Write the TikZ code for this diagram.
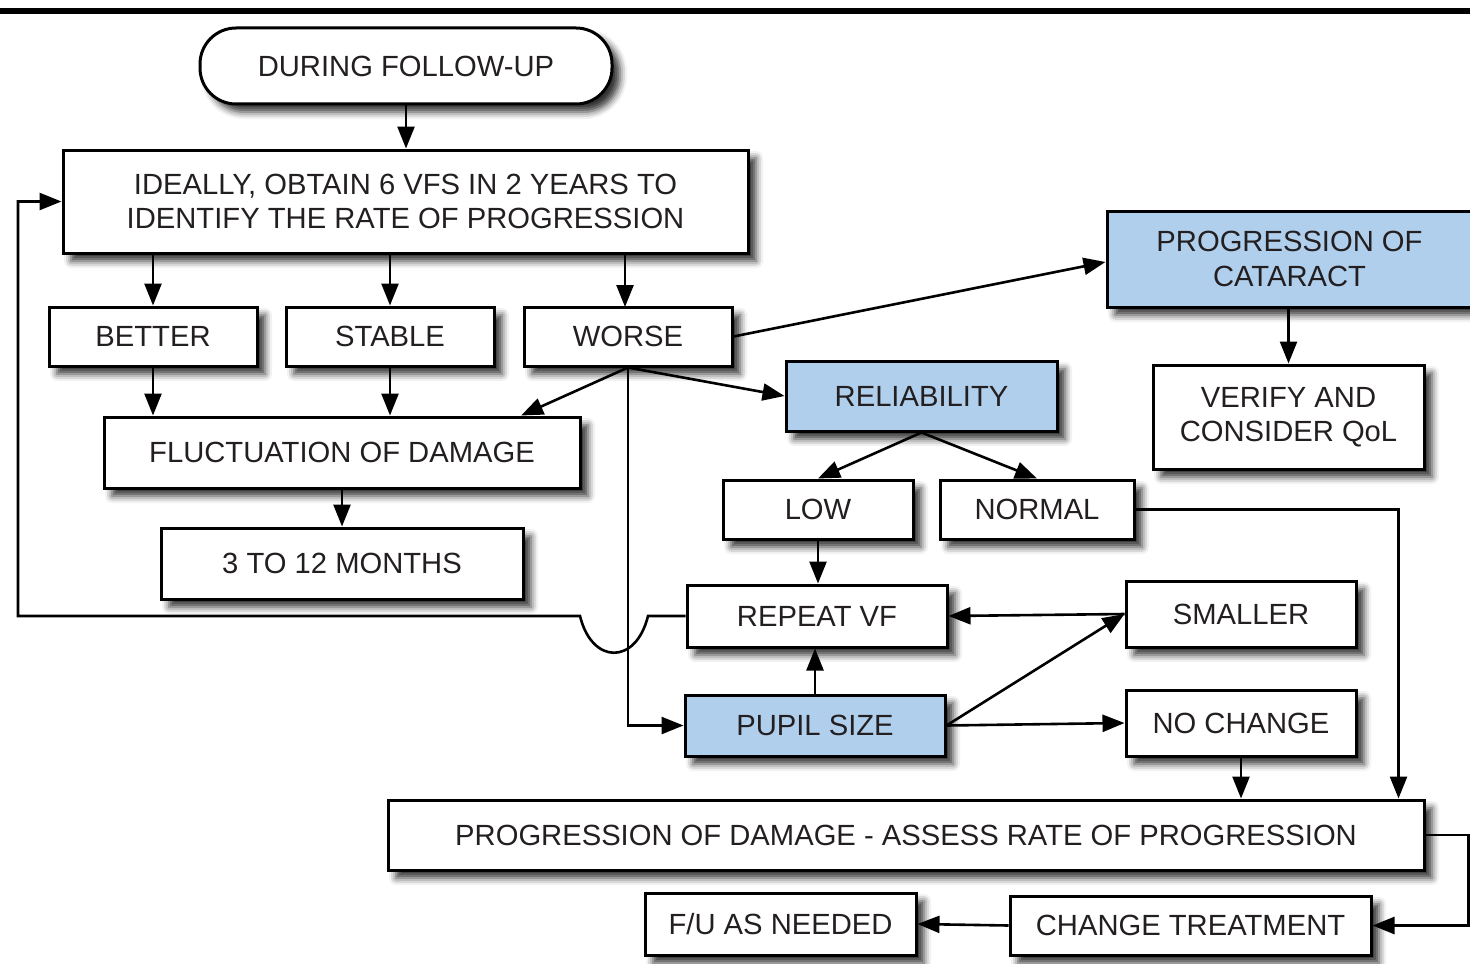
\documentclass[tikz,border=0pt]{standalone}
\usepackage{fontspec}
\setmainfont{Liberation Sans}
\usetikzlibrary{arrows.meta,calc,shadows.blur}
\definecolor{paleblue}{RGB}{176,207,236}
\definecolor{inkc}{RGB}{35,31,32}

\tikzset{
  box/.style={draw=black, line width=1.5pt, fill=white, rectangle, inner sep=2pt,
    align=center, text=inkc, font=\fontsize{14.6}{17.2}\selectfont,
    blur shadow={shadow xshift=4pt, shadow yshift=-4pt, shadow blur radius=3.5pt, shadow opacity=80}},
  hi/.style={box, fill=paleblue},
  link/.style={line width=1.3pt, -{Triangle[length=11pt,width=8.5pt]}},
  wire/.style={line width=1.3pt}
}

\begin{document}
\begin{tikzpicture}[x=0.5pt,y=-0.5pt]
\useasboundingbox (0,0) rectangle (1470,963);

% heavy rule across the top
\fill[black] (0,8) rectangle (1470,14);

% boxes
\node[box, rounded corners=18pt, minimum width=206pt, minimum height=38pt] (start) at (406,66) {DURING FOLLOW-UP};
\node[box, minimum width=342.5pt, minimum height=51.5pt] (ideal) at (405.5,201.5)
  {IDEALLY, OBTAIN 6 VFS IN 2 YEARS TO\\IDENTIFY THE RATE OF PROGRESSION};
\node[box, minimum width=104pt, minimum height=29.5pt] (better) at (153,336.5) {BETTER};
\node[box, minimum width=104pt, minimum height=29.5pt] (stable) at (390,336.5) {STABLE};
\node[box, minimum width=104pt, minimum height=29.5pt] (worse) at (628,336.5) {WORSE};
\node[box, minimum width=238pt, minimum height=35.5pt] (fluct) at (342,452.5) {FLUCTUATION OF DAMAGE};
\node[box, minimum width=181pt, minimum height=35.5pt] (months) at (342,563.5) {3 TO 12 MONTHS};
\node[hi, minimum width=182.5pt, minimum height=48pt] (cataract) at (1289.5,259) {PROGRESSION OF\\CATARACT};
\node[box, minimum width=135.5pt, minimum height=52pt] (verify) at (1288.5,417) {VERIFY AND\\CONSIDER QoL};
\node[hi, minimum width=135.5pt, minimum height=35pt] (rel) at (921.5,396) {RELIABILITY};
\node[box, minimum width=95pt, minimum height=29.5pt] (low) at (818,509.5) {LOW};
\node[box, minimum width=97pt, minimum height=29.5pt] (normal) at (1037,509.5) {NORMAL};
\node[box, minimum width=130pt, minimum height=31pt] (repeat) at (817,616) {REPEAT VF};
\node[box, minimum width=115pt, minimum height=33pt] (smaller) at (1241,614) {SMALLER};
\node[hi, minimum width=130pt, minimum height=30.5pt] (pupil) at (815,725.5) {PUPIL SIZE};
\node[box, minimum width=115pt, minimum height=33pt] (nochange) at (1241,723) {NO CHANGE};
\node[box, minimum width=518pt, minimum height=35pt] (damage) at (906,835)
  {PROGRESSION OF DAMAGE - ASSESS RATE OF PROGRESSION};
\node[box, minimum width=135.5pt, minimum height=31pt] (fu) at (780.5,924) {F/U AS NEEDED};
\node[box, minimum width=180.5pt, minimum height=29.5pt] (treat) at (1190.5,925.5) {CHANGE TREATMENT};

% connectors
\draw[link] (start.south) -- (start.south |- ideal.north);
\draw[link] (ideal.south -| better.north) -- (better.north);
\draw[link] (ideal.south -| stable.north) -- (stable.north);
\draw[link] (ideal.south -| 625,0) -- (625,307);
\draw[link] (better.south) -- (better.south |- fluct.north);
\draw[link] (stable.south) -- (stable.south |- fluct.north);
\draw[link] (worse.south) -- ($(fluct.north east)!0.126!(fluct.north west)$);
\draw[link] (worse.south) -- (rel.west);
\draw[link] (worse.south) |- (pupil.west);
\draw[link] (worse.east) -- ($(cataract.north west)!0.53!(cataract.south west)$);
\draw[link] (cataract.south -| verify.north) -- (verify.north);
\draw[link] (fluct.south) -- (months.north);
\draw[link] (rel.south) -- (low.north);
\draw[link] (rel.south) -- (normal.north);
\draw[link] (low.south) -- (low.south |- repeat.north);
\draw[link] (normal.east) -| ($(damage.north east)+(-27,0)$);
\draw[link] (smaller.west) -- (repeat.east);
\draw[link] (pupil.north) -- (pupil.north |- repeat.south);
\draw[link] (pupil.east) -- (smaller.west);
\draw[link] (pupil.east) -- (nochange.west);
\draw[link] (nochange.south) -- (nochange.south |- damage.north);
\draw[link] (damage.east) -- ++(43,0) |- (treat.east);
\draw[link] (treat.west) -- (fu.east);

% feedback loop from REPEAT VF, hopping over the WORSE line
\coordinate (hopR) at (648,616);
\coordinate (hopL) at (580,616);
\coordinate (loopX) at (18,616);
\draw[link] (repeat.west) -- (hopR) .. controls (636,665) and (592,665) .. (hopL)
  -- (loopX) |- (ideal.west);
\end{tikzpicture}
\end{document}
